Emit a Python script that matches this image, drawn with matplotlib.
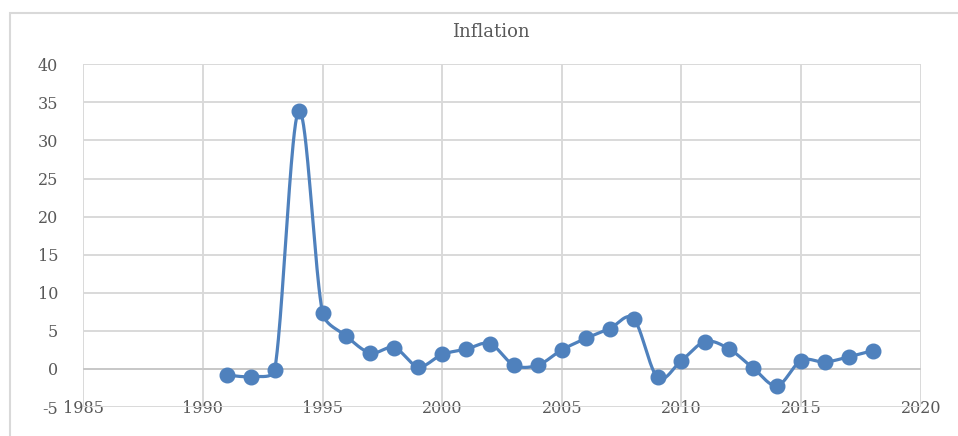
import matplotlib.pyplot as plt
import numpy as np
from matplotlib.patches import Rectangle

# Data
years = [1991, 1992, 1993, 1994, 1995, 1996, 1997, 1998, 1999, 2000,
         2001, 2002, 2003, 2004, 2005, 2006, 2007, 2008, 2009, 2010,
         2011, 2012, 2013, 2014, 2015, 2016, 2017, 2018]
inflation = [-0.8, -1.0, -0.1, 33.9, 7.4, 4.3, 2.1, 2.8, 0.3, 1.9,
             2.6, 3.3, 0.5, 0.5, 2.5, 4.0, 5.3, 6.6, -1.1, 1.1,
             3.6, 2.6, 0.1, -2.2, 1.1, 0.9, 1.6, 2.4]
x_ticks = [1985, 1990, 1995, 2000, 2005, 2010, 2015, 2020]
y_ticks = [-5, 0, 5, 10, 15, 20, 25, 30, 35, 40]

line_color = '#4f81bd'
grid_color = '#d9d9d9'
text_color = '#595959'

W, H = 958, 436
ax_left, ax_right, ax_top, ax_bottom = 83.3, 920.7, 64.3, 407.0


# Excel-like smoothed line: Bezier segments, handles clamped to segment length
def smooth(xs, ys, sx, sy, n=40):
    p = np.column_stack([np.asarray(xs) * sx, np.asarray(ys) * sy]).astype(float)
    p = np.vstack([p[0], p, p[-1]])

    def handle(d, seg):
        L = np.hypot(*d)
        lim = 0.4 * seg
        return d * (lim / L) if L > lim and L > 0 else d

    out = []
    for i in range(1, len(p) - 2):
        p0, p1, p2, p3 = p[i - 1], p[i], p[i + 1], p[i + 2]
        seg = np.hypot(*(p2 - p1))
        c1 = p1 + handle((p2 - p0) / 6, seg)
        c2 = p2 - handle((p3 - p1) / 6, seg)
        t = np.linspace(0, 1, n)[:, None]
        b = ((1 - t) ** 3 * p1 + 3 * (1 - t) ** 2 * t * c1
             + 3 * (1 - t) * t ** 2 * c2 + t ** 3 * p2)
        out.append(b if i == 1 else b[1:])
    out = np.vstack(out)
    return out[:, 0] / sx, out[:, 1] / sy


plt.rcParams['font.family'] = ['DejaVu Serif']
plt.rcParams['axes.unicode_minus'] = False

fig = plt.figure(figsize=(W / 100, H / 100), dpi=100)
fig.patches.append(Rectangle((10 / W, -0.1), 1.2, 1 - 13 / H + 0.1,
                             transform=fig.transFigure, fill=False,
                             edgecolor=grid_color, linewidth=1.5))

ax = fig.add_axes([ax_left / W, 1 - ax_bottom / H,
                   (ax_right - ax_left) / W, (ax_bottom - ax_top) / H])

px_per_year = (ax_right - ax_left) / 35
px_per_unit = (ax_bottom - ax_top) / 45
cx, cy = smooth(years, inflation, px_per_year, px_per_unit)
ax.plot(cx, cy, color=line_color, linewidth=2.3, solid_capstyle='round', zorder=3)
ax.plot(years, inflation, 'o', color=line_color, markersize=10.5, zorder=4)

ax.set_xlim(1985, 2020)
ax.set_ylim(-5, 40)
ax.set_xticks(x_ticks)
ax.set_yticks(y_ticks)
ax.grid(True, color=grid_color, linewidth=1.4)
ax.set_axisbelow(True)
ax.axhline(0, color='#c8c8c8', linewidth=1.4, zorder=1)
for s in ax.spines.values():
    s.set_visible(False)

ax.tick_params(axis='both', length=0, labelsize=11.5, colors=text_color)
ax.tick_params(axis='y', pad=18)
ax.tick_params(axis='x', pad=-5)

ax.set_title('Inflation', fontsize=13, color=text_color, pad=20,
             x=(491 - ax_left) / (ax_right - ax_left))

fig.savefig('out.png', dpi=100)
